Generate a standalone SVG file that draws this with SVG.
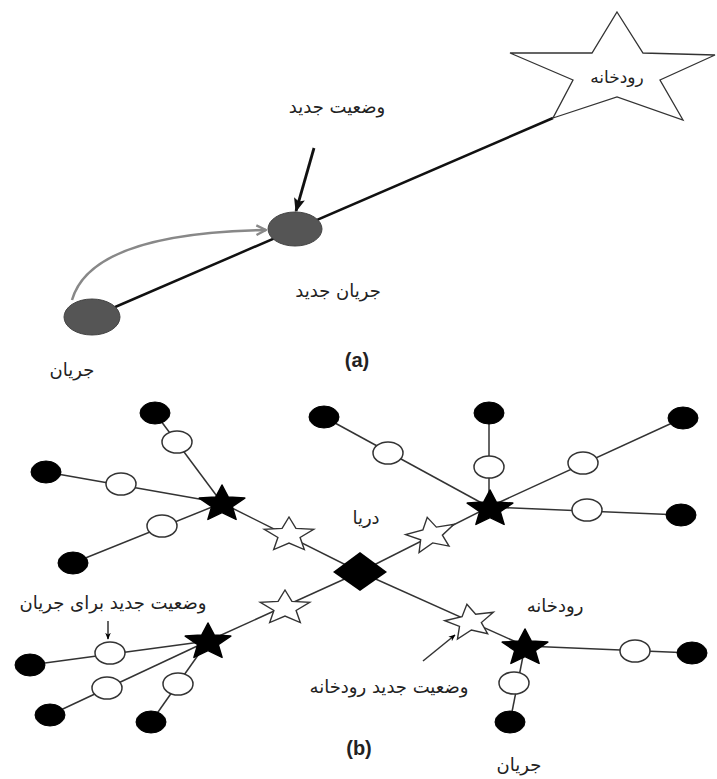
<svg xmlns="http://www.w3.org/2000/svg" xmlns:xlink="http://www.w3.org/1999/xlink" width="717" height="779" viewBox="0 0 717 779">
<style>
.ar{font-family:"DejaVu Sans","Noto Sans",sans-serif;font-size:18px;fill:#222;text-anchor:middle}
.lbl{font-family:"Liberation Sans",Arial,sans-serif;font-size:20px;font-weight:bold;fill:#222;text-anchor:middle}
.thin{stroke:#333;stroke-width:1.5;fill:none}
.wc{fill:#fff;stroke:#333;stroke-width:1.5}
.bc{fill:#000;stroke:#000;stroke-width:1}
.ws{fill:#fff;stroke:#333;stroke-width:1.4}
.bs{fill:#000;stroke:#000;stroke-width:1.5;stroke-linejoin:round}
</style>
<defs>
<path id="wstar" d="M0,-18 L6.9,-6.6 24.7,-5.6 11.1,2.5 15.3,14.6 0,8.1 -15.3,14.6 -11.1,2.5 -24.7,-5.6 -6.9,-6.6Z"/>
<path id="bstar" d="M0,-19 L6.3,-6.9 22.8,-5.9 10.3,2.6 14.1,15.4 0,8.6 -14.1,15.4 -10.3,2.6 -22.8,-5.9 -6.3,-6.9Z"/>
<marker id="ah" viewBox="0 0 10 10" refX="9" refY="5" markerWidth="7" markerHeight="7" orient="auto" markerUnits="userSpaceOnUse">
<path d="M0,1 L10,5 L0,9 L3,5Z" fill="#000"/>
</marker>
<marker id="ahg" viewBox="0 0 10 10" refX="9" refY="5" markerWidth="12" markerHeight="12" orient="auto" markerUnits="userSpaceOnUse">
<path d="M1,1 L9,5 L1,9" fill="none" stroke="#888" stroke-width="2"/>
</marker>
<marker id="ahb" viewBox="0 0 10 10" refX="9" refY="5" markerWidth="14" markerHeight="14" orient="auto" markerUnits="userSpaceOnUse">
<path d="M0,1 L10,5 L0,9 L2,5Z" fill="#111"/>
</marker>
</defs>

<!-- (a) connectors -->
<g id="connectors-a">
<path d="M92,317 L553,118" stroke="#111" stroke-width="2.5" fill="none"/>
<path d="M72,300 C85,255 150,232 266,230" stroke="#888" stroke-width="2.5" fill="none" marker-end="url(#ahg)"/>
<path d="M314,148 L296,211" stroke="#111" stroke-width="2.8" fill="none" marker-end="url(#ahb)"/>
</g>
<g id="river-a">
<polygon points="617,12 643,53 715,55 660,80 683,120 617,97 553,118 573,80 510,53 592,53" fill="#fff" stroke="#333" stroke-width="1.3"/>
<text class="ar" x="617" y="83" style="font-size:17px">رودخانه</text>
</g>
<g id="newflow-a">
<ellipse cx="295" cy="229" rx="27" ry="17" fill="#555" stroke="#444" stroke-width="1"/>
</g>
<g id="flow-a">
<ellipse cx="92" cy="317" rx="28" ry="18" fill="#555" stroke="#444" stroke-width="1"/>
</g>
<g id="labels-a">
<text class="ar" x="337" y="113">وضعیت جدید</text>
<text class="ar" x="338" y="297">جریان جدید</text>
<text class="ar" x="72" y="376">جریان</text>
<text class="lbl" x="357" y="367">(a)</text>
</g>

<!-- (b) connectors -->
<g id="connectors-b" class="thin">
<line x1="222" y1="503" x2="360" y2="572"/>
<line x1="489" y1="507" x2="360" y2="572"/>
<line x1="208" y1="641" x2="360" y2="572"/>
<line x1="525" y1="646" x2="360" y2="572"/>
<line x1="222" y1="503" x2="155" y2="413"/>
<line x1="222" y1="503" x2="46" y2="472"/>
<line x1="222" y1="503" x2="73" y2="563"/>
<line x1="489" y1="507" x2="324" y2="417"/>
<line x1="489" y1="507" x2="489" y2="413"/>
<line x1="489" y1="507" x2="683" y2="418"/>
<line x1="489" y1="507" x2="681" y2="515"/>
<line x1="208" y1="641" x2="30" y2="665"/>
<line x1="208" y1="641" x2="50" y2="715"/>
<line x1="208" y1="641" x2="151" y2="722"/>
<line x1="525" y1="646" x2="692" y2="653"/>
<line x1="525" y1="646" x2="510" y2="722"/>
<line x1="108" y1="621" x2="108" y2="639" marker-end="url(#ah)"/>
<line x1="423" y1="661" x2="455" y2="635" marker-end="url(#ah)"/>
</g>

<g id="sea">
<polygon points="360,552 387,572 360,591 333,572" fill="#000"/>
</g>

<g id="rivers-new">
<use xlink:href="#wstar" class="ws" transform="translate(289,535)"/>
<use xlink:href="#wstar" class="ws" transform="translate(431,535) rotate(-12)"/>
<use xlink:href="#wstar" class="ws" transform="translate(285,608)"/>
<use xlink:href="#wstar" class="ws" transform="translate(470,622) rotate(-10)"/>
</g>

<g id="rivers">
<use xlink:href="#bstar" class="bs" transform="translate(222,504)"/>
<use xlink:href="#bstar" class="bs" transform="translate(490,509)"/>
<use xlink:href="#bstar" class="bs" transform="translate(208,642)"/>
<use xlink:href="#bstar" class="bs" transform="translate(525,648)"/>
</g>

<g id="flows-new">
<ellipse class="wc" cx="177" cy="442" rx="15" ry="11"/>
<ellipse class="wc" cx="121" cy="484" rx="15" ry="11"/>
<ellipse class="wc" cx="162" cy="526" rx="15" ry="11"/>
<ellipse class="wc" cx="388" cy="453" rx="15" ry="11"/>
<ellipse class="wc" cx="489" cy="467" rx="15" ry="11"/>
<ellipse class="wc" cx="583" cy="463" rx="15" ry="11"/>
<ellipse class="wc" cx="587" cy="510" rx="15" ry="11"/>
<ellipse class="wc" cx="110" cy="653" rx="15" ry="11"/>
<ellipse class="wc" cx="107" cy="688" rx="15" ry="11"/>
<ellipse class="wc" cx="178" cy="684" rx="15" ry="11"/>
<ellipse class="wc" cx="635" cy="651" rx="15" ry="11"/>
<ellipse class="wc" cx="514" cy="683" rx="15" ry="11"/>
</g>

<g id="flows">
<ellipse class="bc" cx="155" cy="413" rx="15" ry="11"/>
<ellipse class="bc" cx="46" cy="472" rx="15" ry="11"/>
<ellipse class="bc" cx="73" cy="563" rx="15" ry="11"/>
<ellipse class="bc" cx="324" cy="417" rx="15" ry="11"/>
<ellipse class="bc" cx="489" cy="413" rx="15" ry="11"/>
<ellipse class="bc" cx="683" cy="418" rx="15" ry="11"/>
<ellipse class="bc" cx="681" cy="515" rx="15" ry="11"/>
<ellipse class="bc" cx="30" cy="665" rx="15" ry="11"/>
<ellipse class="bc" cx="50" cy="715" rx="15" ry="11"/>
<ellipse class="bc" cx="151" cy="722" rx="15" ry="11"/>
<ellipse class="bc" cx="692" cy="653" rx="15" ry="11"/>
<ellipse class="bc" cx="510" cy="722" rx="15" ry="11"/>
</g>

<g id="labels-b">
<text class="ar" x="366" y="524">دریا</text>
<text class="ar" x="113" y="609">وضعیت جدید برای جریان</text>
<text class="ar" x="555" y="612">رودخانه</text>
<text class="ar" x="389" y="693">وضعیت جدید رودخانه</text>
<text class="lbl" x="359" y="755">(b)</text>
<text class="ar" x="519" y="771">جریان</text>
</g>
</svg>
